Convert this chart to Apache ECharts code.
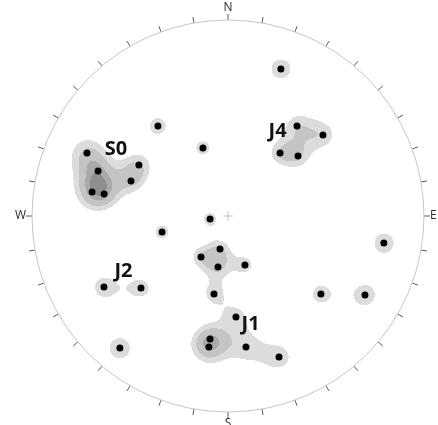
<!DOCTYPE html>
<html>
<head>
<meta charset="utf-8">
<script src="https://cdn.jsdelivr.net/npm/echarts@6/dist/echarts.min.js"></script>
<style>
  html, body { margin: 0; padding: 0; background: #fff; }
  #chart { width: 438px; height: 425px; }
</style>
</head>
<body>
<div id="chart"></div>
<script>
// Poles to planes, lower hemisphere, equal-angle (Wulff) net.
// Trend and plunge in degrees, one entry per measured pole.
const poleTrend = [
  19.8, 322.1, 339.8,
  37.5, 49.5, 39.5, 49.4,
  294.1, 289.1, 299.8, 289.8, 280.0, 280.1,
  260.5, 256.4,
  193.6, 213.4, 191.1, 160.9, 190.2,
  99.8, 130.0, 120.0,
  240.2, 230.4,
  175.5, 188.3, 188.3, 172.2, 160.1,
  219.3
];
const polePlunge = [
  12.9, 29.6, 49.4,
  29.9, 25.0, 44.7, 39.6,
  13.5, 19.9, 34.7, 34.5, 19.7, 24.6,
  79.4, 51.8,
  70.3, 61.9, 60.3, 60.4, 46.0,
  12.2, 26.5, 12.2,
  17.8, 30.1,
  35.3, 25.2, 21.9, 22.0, 15.2,
  7.9
];

// Discontinuity set names
const setNames = ['S0', 'J4', 'J2', 'J1'];

// Compass letters on the primitive circle
const compassLabels = { 0: 'N', 90: 'E', 180: 'S', 270: 'W' };

// Fisher density contouring
const fisherKappa = 100;
const contourLevels = [0.845, 1.25, 1.74, 2.06];

// ---- layout and style ----
const CX = 228, CY = 216, RADIUS = 196;
const contourColors = ['#dcdcdc', '#c4c4c4', '#a9a9a9', '#8f8f8f'];
// set label anchors in net units (primitive radius = 1)
const setLabelPos = [[-0.571, 0.342], [0.253, 0.434], [-0.533, -0.281], [0.115, -0.551]];

const D2R = Math.PI / 180;

// unit vector (east, north, down) of a pole
function poleVector(trend, plunge) {
  const t = trend * D2R, p = plunge * D2R;
  return [Math.cos(p) * Math.sin(t), Math.cos(p) * Math.cos(t), Math.sin(p)];
}
// stereographic projection to net units
function project(trend, plunge) {
  const r = Math.tan((90 - plunge) * D2R / 2);
  return [r * Math.sin(trend * D2R), r * Math.cos(trend * D2R)];
}
// inverse stereographic projection of a net position
function unproject(u, v) {
  const rho = Math.sqrt(u * u + v * v);
  if (rho < 1e-9) return [0, 0, 1];
  const th = 2 * Math.atan(rho);
  const s = Math.sin(th) / rho;
  return [u * s, v * s, Math.cos(th)];
}

const vectors = poleTrend.map((t, i) => poleVector(t, polePlunge[i]));
const poleXY = poleTrend.map((t, i) => project(t, polePlunge[i]));

// density on a pixel-sized grid, stored as horizontal runs of equal level
const N = 2 * RADIUS;
const cell = 2 / N;
const runs = [];
for (let j = 0; j < N; j++) {
  const v = 1 - (j + 0.5) * cell;
  let runStart = -1, runLevel = 0;
  for (let i = 0; i <= N; i++) {
    let level = 0;
    if (i < N) {
      const u = (i + 0.5) * cell - 1;
      if (u * u + v * v <= 1) {
        const g = unproject(u, v);
        let d = 0;
        for (const p of vectors) {
          const c = g[0] * p[0] + g[1] * p[1] + g[2] * p[2];
          d += Math.exp(fisherKappa * (c - 1));
        }
        for (let k = 0; k < contourLevels.length; k++) if (d >= contourLevels[k]) level = k + 1;
      }
    }
    if (level !== runLevel) {
      if (runLevel > 0) {
        runs.push([runStart * cell - 1, i * cell - 1, 1 - j * cell, 1 - (j + 1) * cell, runLevel]);
      }
      runStart = i;
      runLevel = level;
    }
  }
}

const chart = echarts.init(document.getElementById('chart'), null, { renderer: 'canvas' });

const hiddenAxis = {
  type: 'value', min: -1, max: 1, show: false,
  axisLine: { show: false }, axisTick: { show: false }, axisLabel: { show: false }, splitLine: { show: false }
};

chart.setOption({
  animation: false,
  backgroundColor: '#ffffff',
  polar: { center: [CX, CY], radius: RADIUS },
  angleAxis: {
    type: 'value', min: 0, max: 360, interval: 10,
    startAngle: 90, clockwise: true,
    axisLine: { show: true, lineStyle: { color: '#c6c6c6', width: 1 } },
    axisTick: { show: true, length: 6, lineStyle: { color: '#5a5a5a', width: 1 } },
    axisLabel: {
      show: true, margin: 6, color: '#2a2a2a', fontSize: 12, fontFamily: 'Open Sans',
      formatter: v => (v === 360 ? '' : (compassLabels[v] || ''))
    },
    splitLine: { show: false }
  },
  radiusAxis: {
    type: 'value', min: 0, max: 1, show: false,
    axisLine: { show: false }, axisTick: { show: false }, axisLabel: { show: false }, splitLine: { show: false }
  },
  grid: { left: CX - RADIUS, top: CY - RADIUS, width: 2 * RADIUS, height: 2 * RADIUS },
  xAxis: hiddenAxis,
  yAxis: hiddenAxis,
  series: [
    {
      type: 'custom',
      coordinateSystem: 'cartesian2d',
      silent: true,
      progressive: 0,
      data: runs,
      encode: { x: [0, 1], y: [2, 3] },
      renderItem: function (params, api) {
        const a = api.coord([api.value(0), api.value(2)]);
        const b = api.coord([api.value(1), api.value(3)]);
        return {
          type: 'rect',
          shape: { x: a[0], y: a[1], width: b[0] - a[0], height: b[1] - a[1] },
          style: { fill: contourColors[api.value(4) - 1], stroke: null }
        };
      },
      z: 1
    },
    {
      // centre mark
      type: 'scatter',
      silent: true,
      data: [[0, 0]],
      symbol: 'path://M0,4.5h10v1h-10z M4.5,0h1v10h-1z',
      symbolSize: 9,
      itemStyle: { color: '#b8b8b8', opacity: 1 },
      z: 2
    },
    {
      type: 'scatter',
      silent: true,
      data: poleXY,
      symbol: 'circle',
      symbolSize: 7,
      itemStyle: { color: '#000', opacity: 1 },
      z: 3
    },
    {
      type: 'scatter',
      silent: true,
      data: setNames.map((n, i) => ({ name: n, value: setLabelPos[i] })),
      symbolSize: 0,
      itemStyle: { opacity: 1 },
      label: {
        show: true, position: 'inside', formatter: '{b}',
        fontFamily: 'Open Sans', fontWeight: 'bold', fontSize: 20, color: '#111'
      },
      z: 4
    }
  ]
});
</script>
</body>
</html>
